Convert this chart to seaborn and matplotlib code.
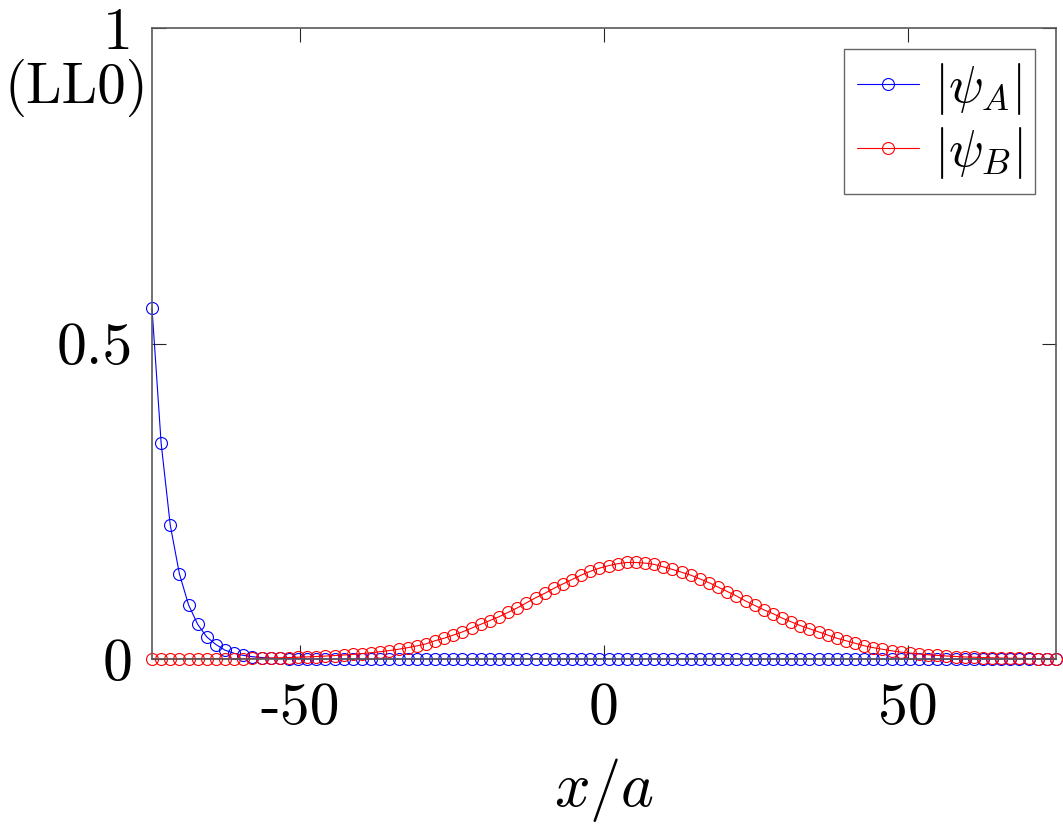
import numpy as np
import pandas as pd
import matplotlib
matplotlib.use("Agg")
import matplotlib.pyplot as plt
import seaborn as sns

# ---- data ----
x_sites = np.linspace(-74.25, 74.25, 100)  # lattice positions x/a

psi_A_head = [0.556, 0.342, 0.212, 0.135, 0.086, 0.055, 0.035, 0.023, 0.014, 0.009,
              0.0058, 0.0037, 0.0024, 0.0015, 0.0010, 0.0006, 0.0004, 0.00025, 0.00016, 0.0001]
psi_A = psi_A_head + [0.0] * (100 - len(psi_A_head))

psi_B = [0.0001, 0.0001, 0.0002, 0.0002, 0.0002, 0.0003, 0.0003, 0.0004, 0.0005,
         0.0006, 0.0008, 0.0010, 0.0013, 0.0016, 0.0020, 0.0024, 0.0029, 0.0034, 0.0040,
         0.0047, 0.0055, 0.0064, 0.0074, 0.0086, 0.0100, 0.0116, 0.0134, 0.0155, 0.0180,
         0.0208, 0.0240, 0.0290, 0.0330, 0.0380, 0.0430, 0.0490, 0.0550, 0.0610, 0.0670,
         0.0740, 0.0810, 0.0890, 0.0970, 0.1040, 0.1120, 0.1190, 0.1260, 0.1330, 0.1390,
         0.1440, 0.1480, 0.1510, 0.1530, 0.1530, 0.1520, 0.1500, 0.1460, 0.1420, 0.1375,
         0.1330, 0.1270, 0.1210, 0.1140, 0.1070, 0.1000, 0.0920, 0.0850, 0.0780, 0.0720,
         0.0650, 0.0590, 0.0530, 0.0480, 0.0430, 0.0380, 0.0330, 0.0290, 0.0250, 0.0210,
         0.0180, 0.0155, 0.0130, 0.0110, 0.0095, 0.0080, 0.0068, 0.0057, 0.0048, 0.0040,
         0.0033, 0.0028, 0.0023, 0.0019, 0.0016, 0.0013, 0.0011, 0.0009, 0.0007, 0.0006,
         0.0005]

x_ticks = [-50, 0, 50]
x_tick_labels = ["-50", "0", "50"]
y_ticks = [0, 0.5, 1]
y_tick_labels = ["0", "0.5", "1"]
series_labels = [r"$|\psi_A|$", r"$|\psi_B|$"]
series_colors = ["#0000ff", "#ff0000"]

# ---- style ----
sns.set_style("ticks")
plt.rcParams["font.family"] = ["cmr10", "DejaVu Serif"]
plt.rcParams["mathtext.fontset"] = "cm"
plt.rcParams["axes.unicode_minus"] = False
plt.rcParams["text.color"] = "black"
plt.rcParams["axes.labelcolor"] = "black"
plt.rcParams["xtick.labelcolor"] = "black"
plt.rcParams["ytick.labelcolor"] = "black"

fig = plt.figure(figsize=(10.63, 8.32), dpi=100)
ax = fig.add_axes([0.143, 0.2079, 0.8504, 0.7584])

for yvals, lab, col in zip([psi_A, psi_B], series_labels, series_colors):
    sns.lineplot(x=x_sites, y=yvals, ax=ax, color=col, label=lab,
                 marker="o", markersize=8.6, markerfacecolor="none",
                 markeredgecolor=col, markeredgewidth=0.8, linewidth=0.8,
                 estimator=None, sort=False, clip_on=False)

ax.set_xlim(-74.25, 74.25)
ax.set_ylim(0, 1)
ax.set_xticks(x_ticks)
ax.set_xticklabels(x_tick_labels)
ax.set_yticks(y_ticks)
ax.set_yticklabels(y_tick_labels)
ax.tick_params(axis="both", direction="in", length=10, width=0.8, color="0.15",
               labelsize=43, labelcolor="black", top=True, right=True)
ax.tick_params(axis="x", pad=17)
ax.tick_params(axis="y", pad=14)
for s in ax.spines.values():
    s.set_visible(True)
    s.set_color("0.35")
    s.set_linewidth(1.2)

ax.set_xlabel(r"$x/a$", fontsize=45, labelpad=14, color="black")
ax.set_ylabel("")
ax.text(-0.004, 0.905, "(LL0)", transform=ax.transAxes, ha="right", va="center",
        fontsize=41, color="black")

leg = ax.legend(loc="upper right", fontsize=37, frameon=True, fancybox=False,
                handlelength=1.2, handletextpad=0.3, borderpad=0.25,
                labelspacing=0.15, borderaxespad=0.4, numpoints=1)
leg.get_frame().set_edgecolor("0.25")
leg.get_frame().set_linewidth(1.0)
for t in leg.get_texts():
    t.set_color("black")

fig.savefig("out.png", dpi=100)
